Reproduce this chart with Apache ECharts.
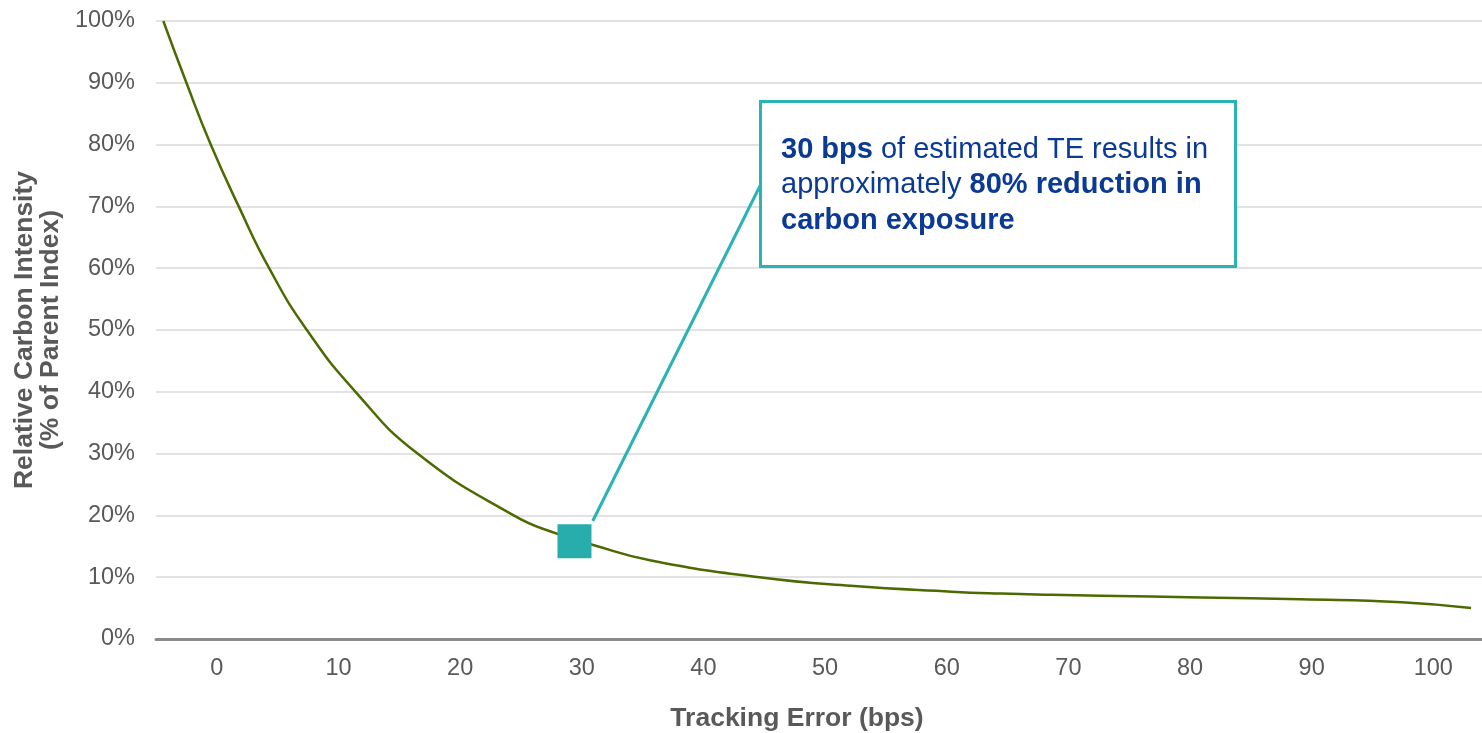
<!DOCTYPE html>
<html>
<head>
<meta charset="utf-8">
<script src="https://cdn.jsdelivr.net/npm/echarts@6/dist/echarts.min.js"></script>
<style>
html,body{margin:0;padding:0;background:#fff;}
#chart{width:1482px;height:733px;}
</style>
</head>
<body>
<div id="chart"></div>
<script>
// Tracking error (bps) and relative carbon intensity (%)
const trackingError = [-4.4, -2.5, -0.5, 1.8, 4.3, 7.4, 11.4, 16.5, 24.4, 28.0, 30.8, 35.7, 44.6, 52.1, 60.4, 64.5, 68.6, 72.7, 80.9, 89.1, 97.4, 103.1];
const carbonIntensity = [100, 90, 80, 70, 60, 50, 40, 30, 20, 17.0, 15.3, 12.7, 10.0, 8.6, 7.66, 7.35, 7.15, 7.0, 6.72, 6.42, 5.95, 5.0];
// Highlighted point
const highlightX = [29.4];
const highlightY = [15.8];
// Connector from marker to annotation box
const connectorX = [30.9, 44.7];
const connectorY = [19.1, 73.5];
const yTicks = [0, 10, 20, 30, 40, 50, 60, 70, 80, 90, 100];
const xTickLabels = [0, 10, 20, 30, 40, 50, 60, 70, 80, 90, 100];

const curve = trackingError.map((x, i) => [x, carbonIntensity[i]]);
const marker = highlightX.map((x, i) => [x, highlightY[i]]);

const chart = echarts.init(document.getElementById('chart'));
const FONT = '"Liberation Sans", Arial, sans-serif';
const GREY = '#595959';
const BLUE = '#0b3a94';

chart.setOption({
  animation: false,
  grid: { left: 156, right: 0, top: 21, bottom: 94, outerBoundsMode: 'none', containLabel: false },
  xAxis: {
    type: 'value',
    min: -5,
    max: 104,
    interval: 5,
    name: 'Tracking Error (bps)',
    nameLocation: 'middle',
    nameGap: 66,
    nameTextStyle: { fontFamily: FONT, fontSize: 26.5, fontWeight: 'bold', color: GREY, padding: [0, 44, 0, 0] },
    axisLine: { show: true, onZero: false, lineStyle: { color: '#8a8a8a', width: 3 } },
    axisTick: { show: false },
    splitLine: { show: false },
    axisLabel: {
      fontFamily: FONT, fontSize: 23.5, color: GREY, margin: 18,
      showMinLabel: true, showMaxLabel: false,
      formatter: v => (xTickLabels.indexOf(v) >= 0 ? String(v) : '')
    }
  },
  yAxis: {
    type: 'value',
    min: 0,
    max: 100,
    interval: 10,
    name: 'Relative Carbon Intensity\n(% of Parent Index)',
    nameLocation: 'middle',
    nameRotate: 90,
    nameGap: 86,
    nameTextStyle: { fontFamily: FONT, fontSize: 26.5, fontWeight: 'bold', color: GREY, lineHeight: 26, align: 'center' },
    axisLine: { show: false },
    axisTick: { show: false },
    splitLine: { show: true, lineStyle: { color: '#e2e2e2', width: 2 } },
    axisLabel: {
      fontFamily: FONT, fontSize: 23.5, color: GREY, margin: 21,
      formatter: v => (yTicks.indexOf(v) >= 0 ? v + '%' : '')
    }
  },
  series: [
    {
      type: 'line',
      data: curve,
      smooth: 0.5,
      showSymbol: false,
      lineStyle: { color: '#4b6a00', width: 2.5 },
      z: 2
    },
    {
      type: 'scatter',
      data: marker,
      symbol: 'rect',
      symbolSize: 34,
      itemStyle: { color: '#28adad', opacity: 1 },
      z: 4,
      markLine: {
        silent: true,
        symbol: ['none', 'none'],
        label: { show: false },
        lineStyle: { color: '#2ab3b3', width: 3, type: 'solid', opacity: 1 },
        data: [[
          { coord: [connectorX[0], connectorY[0]] },
          { coord: [connectorX[1], connectorY[1]] }
        ]]
      }
    }
  ],
  graphic: [
    {
      type: 'rect',
      left: 759, top: 100,
      shape: { width: 475, height: 165 },
      style: { fill: '#ffffff', stroke: '#2ab3b3', lineWidth: 3 },
      z: 10
    },
    {
      type: 'text',
      left: 781, top: 132,
      z: 11,
      style: {
        text: '{n|}{b|30 bps}{n| of estimated TE results in}\n{n|approximately }{b|80% reduction in}\n{b|carbon exposure}',
        fill: BLUE,
        font: '29px ' + FONT,
        lineHeight: 35.5,
        rich: {
          n: { fontFamily: FONT, fontSize: 29, fill: BLUE, lineHeight: 35.5 },
          b: { fontFamily: FONT, fontSize: 29, fontWeight: 'bold', fill: BLUE, lineHeight: 35.5 }
        }
      }
    }
  ]
});
</script>
</body>
</html>
